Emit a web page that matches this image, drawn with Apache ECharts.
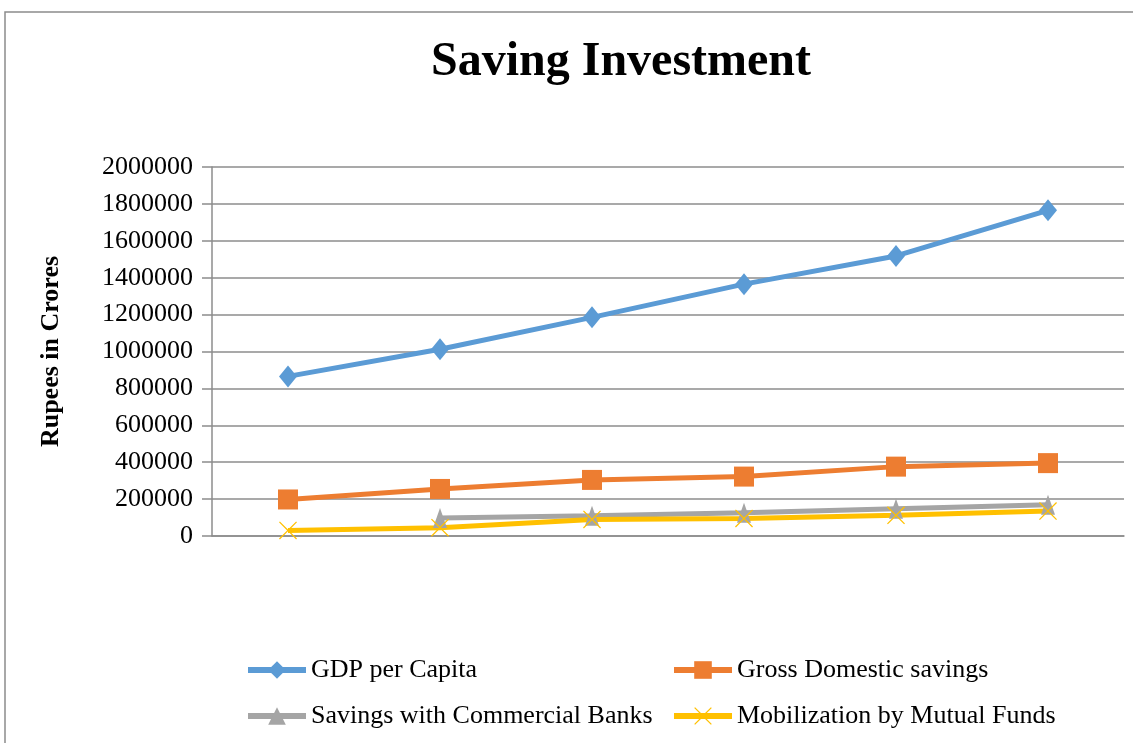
<!DOCTYPE html>
<html>
<head>
<meta charset="utf-8">
<script src="https://cdn.jsdelivr.net/npm/echarts@6/dist/echarts.min.js"></script>
<style>html,body{margin:0;padding:0;background:#fff;}#c{width:1133px;height:743px;}</style>
</head>
<body>
<div id="c"></div>
<script>
const categories = ['1', '2', '3', '4', '5', '6'];
const gdpPerCapita = [865000, 1012000, 1185000, 1365000, 1518000, 1765000];
const grossDomesticSavings = [198000, 255000, 304000, 322000, 376000, 395000];
const savingsCommercialBanks = [null, 97000, 110000, 126000, 148000, 170000];
const mutualFunds = [30000, 45000, 90000, 95000, 112000, 135000];
const yTicks = [0, 200000, 400000, 600000, 800000, 1000000, 1200000, 1400000, 1600000, 1800000, 2000000];

const serif = '"Liberation Serif", "DejaVu Serif", serif';
const xPath = 'path://M0,1 L1,0 L10,9 L19,0 L20,1 L11,10 L20,19 L19,20 L10,11 L1,20 L0,19 L9,10 Z';

const chart = echarts.init(document.getElementById('c'));
const legendText = { fontFamily: serif, fontSize: 26, color: '#000' };
function leg(name, left, top) {
  return { data: [name], left: left, top: top, padding: 0, itemWidth: 58, itemHeight: 22, itemGap: 0,
    textStyle: legendText, selectedMode: false, lineStyle: { width: 6 } };
}
chart.setOption({
  animation: false,
  backgroundColor: '#fff',
  title: {
    text: 'Saving Investment',
    left: 426, top: 34,
    textStyle: { fontFamily: serif, fontWeight: 'bold', fontSize: 48, color: '#000' }
  },
  graphic: [{
    type: 'rect', shape: { x: 5, y: 12, width: 1200, height: 800 },
    style: { fill: 'none', stroke: '#8c8c8c', lineWidth: 1.5 }, silent: true
  }],
  grid: { left: 212, right: 9, top: 167, bottom: 207 },
  legend: [
    leg('GDP per Capita', 245, 657),
    leg('Gross Domestic savings', 671, 657),
    leg('Savings with Commercial Banks', 245, 703),
    leg('Mobilization by Mutual Funds', 671, 703)
  ],
  xAxis: {
    type: 'category', data: categories, boundaryGap: true,
    axisLine: { lineStyle: { color: '#8c8c8c', width: 1.5 } },
    axisTick: { show: false }, axisLabel: { show: false }
  },
  yAxis: {
    type: 'value', min: yTicks[0], max: yTicks[yTicks.length - 1], interval: 200000,
    name: 'Rupees in Crores', nameLocation: 'middle', nameGap: 148,
    nameTextStyle: { fontFamily: serif, fontWeight: 'bold', fontSize: 26, color: '#000' },
    axisLine: { show: true, lineStyle: { color: '#8c8c8c', width: 1.5 } },
    axisTick: { show: true, length: 10, lineStyle: { color: '#8c8c8c', width: 1.5 } },
    axisLabel: { fontFamily: serif, fontSize: 26, color: '#000', margin: 19, formatter: function (v) { return String(v); } },
    splitLine: { lineStyle: { color: '#8c8c8c', width: 1.5 } }
  },
  series: [
    { name: 'GDP per Capita', type: 'line', data: gdpPerCapita, color: '#5B9BD5',
      lineStyle: { width: 5 }, symbol: 'diamond', symbolSize: [18, 22], itemStyle: { color: '#5B9BD5' } },
    { name: 'Gross Domestic savings', type: 'line', data: grossDomesticSavings, color: '#ED7D31',
      lineStyle: { width: 5 }, symbol: 'rect', symbolSize: 20, itemStyle: { color: '#ED7D31' } },
    { name: 'Savings with Commercial Banks', type: 'line', data: savingsCommercialBanks, color: '#A5A5A5',
      lineStyle: { width: 5 }, symbol: 'triangle', symbolSize: [14, 20], itemStyle: { color: '#A5A5A5' } },
    { name: 'Mobilization by Mutual Funds', type: 'line', data: mutualFunds, color: '#FFC000',
      lineStyle: { width: 5 }, symbol: xPath, symbolSize: 18, itemStyle: { color: '#FFC000' } }
  ]
});
</script>
</body>
</html>
